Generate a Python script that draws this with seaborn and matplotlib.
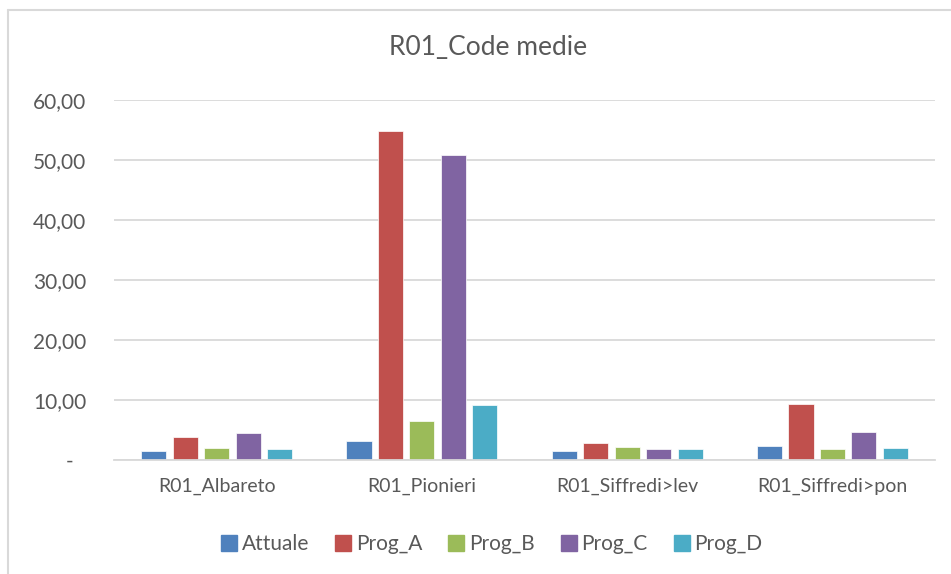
import matplotlib
matplotlib.use("Agg")
import matplotlib.pyplot as plt
import matplotlib.ticker as mticker
from matplotlib.lines import Line2D
import pandas as pd
import seaborn as sns

# data
categories = ["R01_Albareto", "R01_Pionieri", "R01_Siffredi>lev", "R01_Siffredi>pon"]
series = ["Attuale", "Prog_A", "Prog_B", "Prog_C", "Prog_D"]
attuale = [1.5, 3.1, 1.45, 2.3]
prog_a = [3.8, 54.9, 2.8, 9.3]
prog_b = [2.0, 6.5, 2.2, 1.8]
prog_c = [4.5, 50.9, 1.8, 4.7]
prog_d = [1.8, 9.2, 1.9, 2.05]
colors = ["#4F81BD", "#C0504D", "#9BBB59", "#8064A2", "#4BACC6"]

values = {"Attuale": attuale, "Prog_A": prog_a, "Prog_B": prog_b,
          "Prog_C": prog_c, "Prog_D": prog_d}
df = pd.DataFrame([
    {"categoria": c, "serie": s, "valore": v}
    for s in series for c, v in zip(categories, values[s])
])

sns.set_theme(style="white")
plt.rcParams["font.family"] = ["Lato", "DejaVu Sans"]
text_col = "#595959"
grid_col = "#D9D9D9"

fig = plt.figure(figsize=(9.51, 5.74), dpi=100)
ax = fig.add_axes([0.1199, 0.1986, 0.8633, 0.6272])

sns.barplot(data=df, x="categoria", y="valore", hue="serie", order=categories,
            hue_order=series, palette=colors, width=0.767, gap=0.2,
            edgecolor="white", linewidth=0.5, saturation=1, ax=ax, legend=False)

ax.set_ylim(0, 60)
ax.set_yticks(range(0, 61, 10))
# Excel accounting style: zero shown as a dash, decimal comma
ax.yaxis.set_major_formatter(mticker.FuncFormatter(
    lambda v, p: "-\u2007" if v == 0 else f"{v:.2f}".replace(".", ",")))
ax.grid(axis="y", color=grid_col, linewidth=1.3)
ax.set_axisbelow(True)
for side in ["top", "right", "left"]:
    ax.spines[side].set_visible(False)
ax.spines["bottom"].set_color(grid_col)
ax.spines["bottom"].set_linewidth(1.3)
ax.set_xlabel("")
ax.set_ylabel("")
ax.tick_params(axis="y", length=0, pad=20, labelsize=15, labelcolor=text_col)
ax.tick_params(axis="x", length=0, pad=13, labelsize=14, labelcolor=text_col)

fig.text(0.513, 0.918, "R01_Code medie", ha="center", va="center",
         fontsize=19, color=text_col)

handles = [Line2D([0], [0], marker="s", linestyle="", markersize=11,
                  markerfacecolor=c, markeredgecolor=c) for c in colors]
fig.legend(handles, series, loc="center", bbox_to_anchor=(0.517, 0.052),
           ncol=5, frameon=False, fontsize=15, labelcolor=text_col,
           handletextpad=0.2, columnspacing=1.25, handlelength=0.8)

# chart area border (left and top edges visible in the reference)
fig.add_artist(Line2D([0.0084, 0.0084], [0.0, 0.9826], transform=fig.transFigure,
                      color=grid_col, linewidth=1.5))
fig.add_artist(Line2D([0.0084, 1.0], [0.9826, 0.9826], transform=fig.transFigure,
                      color=grid_col, linewidth=1.5))

fig.savefig("out.png", dpi=100, facecolor="white")
